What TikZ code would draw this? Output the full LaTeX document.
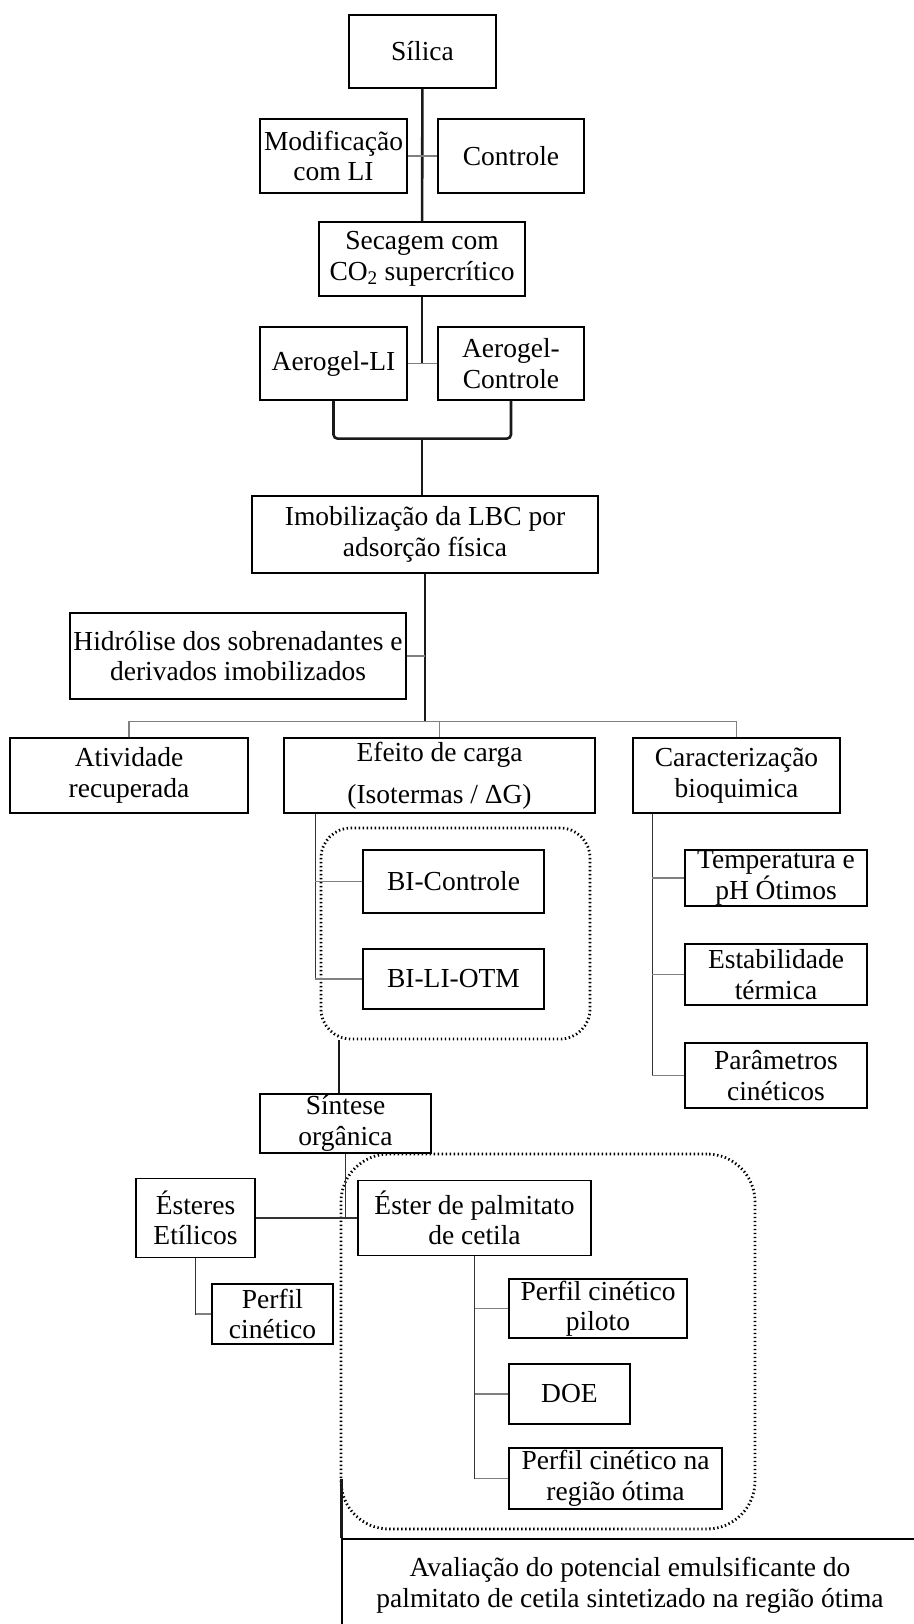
\documentclass[tikz,border=0pt]{standalone}
\usepackage{fontspec}
\setmainfont{Liberation Serif}
\usetikzlibrary{positioning}

\begin{document}
\begin{tikzpicture}[x=1pt,y=-1pt,
    box/.style={rectangle,draw,line width=1.2pt,inner sep=0pt,align=center,
        font=\fontsize{27.5}{30.5}\selectfont},
    trunk/.style={line width=2.6pt,black!90},
    stem/.style={line width=1.4pt,black!80},
    link/.style={line width=1.7pt,black!50},
    group/.style={rectangle,draw,line width=2.8pt,
        dash pattern=on 1.4pt off 2.6pt,inner sep=0pt}]
\useasboundingbox (0,0) rectangle (913,1624);

\begin{scope}[every node/.style={box}]
    % preparo do suporte
    \node [minimum width=147,minimum height=73] (sil) at (422.5,51.5) {Sílica};
    \node [minimum width=147,minimum height=74] (mod) at (333.5,156) {Modificação\\com LI};
    \node [minimum width=146,minimum height=74] (ctl) at (511,156) {Controle};
    \node [minimum width=206,minimum height=74] (sec) at (422,259) {Secagem com\\CO\textsubscript{2} supercrítico};
    \node [minimum width=147,minimum height=73] (agl) at (333.5,363.5) {Aerogel-LI};
    \node [minimum width=146,minimum height=73] (agc) at (511,363.5) {Aerogel-\\Controle};
    \node [minimum width=346,minimum height=77] (imo) at (425,534.5) {Imobilização da LBC por\\adsorção física};
    \node [minimum width=336,minimum height=86] (hid) at (238,656) {Hidrólise dos sobrenadantes e\\derivados imobilizados};
    % caracterização dos derivados
    \node [minimum width=238,minimum height=75] (atv) at (129,775.5) {Atividade\\recuperada};
    \node [minimum width=311,minimum height=75,font=\fontsize{27.5}{42}\selectfont] (efe) at (439.5,775.5) {Efeito de carga\\(Isotermas / ΔG)};
    \node [minimum width=207,minimum height=75] (car) at (736.5,775.5) {Caracterização\\bioquimica};
    \node [minimum width=181,minimum height=63] (bic) at (453.5,881.5) {BI-Controle};
    \node [minimum width=181,minimum height=60] (bil) at (453.5,979) {BI-LI-OTM};
    \node [minimum width=182,minimum height=56] (tmp) at (776,878) {Temperatura e\\pH Ótimos};
    \node [minimum width=182,minimum height=61] (est) at (776,974.5) {Estabilidade\\térmica};
    \node [minimum width=182,minimum height=65] (par) at (776,1075.5) {Parâmetros\\cinéticos};
    % síntese
    \node [minimum width=171,minimum height=59] (sin) at (345.5,1123.5) {Síntese\\orgânica};
    \node [minimum width=119,minimum height=79] (ste) at (195.5,1218) {Ésteres\\Etílicos};
    \node [minimum width=233,minimum height=75] (epc) at (474.5,1218) {Éster de palmitato\\de cetila};
    \node [minimum width=121,minimum height=60] (pcn) at (272.5,1314) {Perfil\\cinético};
    \node [minimum width=178,minimum height=59] (plt) at (598,1308.5) {Perfil cinético\\piloto};
    \node [minimum width=121,minimum height=60] (doe) at (569.5,1394) {DOE};
    \node [minimum width=213,minimum height=61] (reg) at (615.5,1478.5) {Perfil cinético na\\região ótima};
    \node [minimum width=576,minimum height=93] (ava) at (630,1585.5) {Avaliação do potencial emulsificante do\\palmitato de cetila sintetizado na região ótima};
\end{scope}

\node [group,rounded corners=30,minimum width=269,minimum height=211] (grpA) at (455.5,933.5) {};
\node [group,rounded corners=48,minimum width=414,minimum height=375] (grpB) at (548,1341.5) {};

\draw [trunk] (sil) -- (sec);
\draw [link] (mod) -- (ctl);
\draw [trunk] (sec.south) -- (sec.south |- agl.east);
\draw [link] (agl) -- (agc);
\draw [trunk,rounded corners=4] (agl.south) -- ++(0,38) coordinate (join) -| (agc.south);
\draw [trunk] (join -| sec.south) -- (sec.south |- imo.north);
\draw [trunk] (imo.south) -- ++(0,148) coordinate (hub);
\draw [link] (hid.east) -- (hid.east -| hub);
\draw [link] (atv.north) |- (hub) -| (car.north);
\draw [link] (efe.north) -- (efe.north |- hub);

\draw [stem] ([xshift=32pt]efe.south west) |- (bil.west);
\draw [link] ([xshift=32pt]efe.south west |- bic.west) -- (bic.west);
\draw [link] ([xshift=32pt]efe.south west |- bil.west) -- (bil.west);
\draw [stem] ([xshift=20pt]car.south west) |- (par.west);
\draw [link] ([xshift=20pt]car.south west |- tmp.west) -- (tmp.west);
\draw [link] ([xshift=20pt]car.south west |- est.west) -- (est.west);
\draw [link] ([xshift=20pt]car.south west |- par.west) -- (par.west);

\draw [trunk] ([xshift=-6.5pt]sin.north) -- ([xshift=-6.5pt]sin.north |- grpA.south);
\draw [stem] (sin.south) -- (sin.south |- ste.east);
\draw [stem] (ste.east) -- (epc.west);
\draw [stem] (ste.south) |- (pcn.west);
\draw [link] (ste.south |- pcn.west) -- (pcn.west);
\draw [stem] (epc.south) |- (reg.west);
\draw [link] (epc.south |- plt.west) -- (plt.west);
\draw [link] (epc.south |- doe.west) -- (doe.west);
\draw [link] (epc.south |- reg.west) -- (reg.west);
\draw [trunk] (ava.north west) -- (ava.north west |- reg.west);
\end{tikzpicture}
\end{document}
